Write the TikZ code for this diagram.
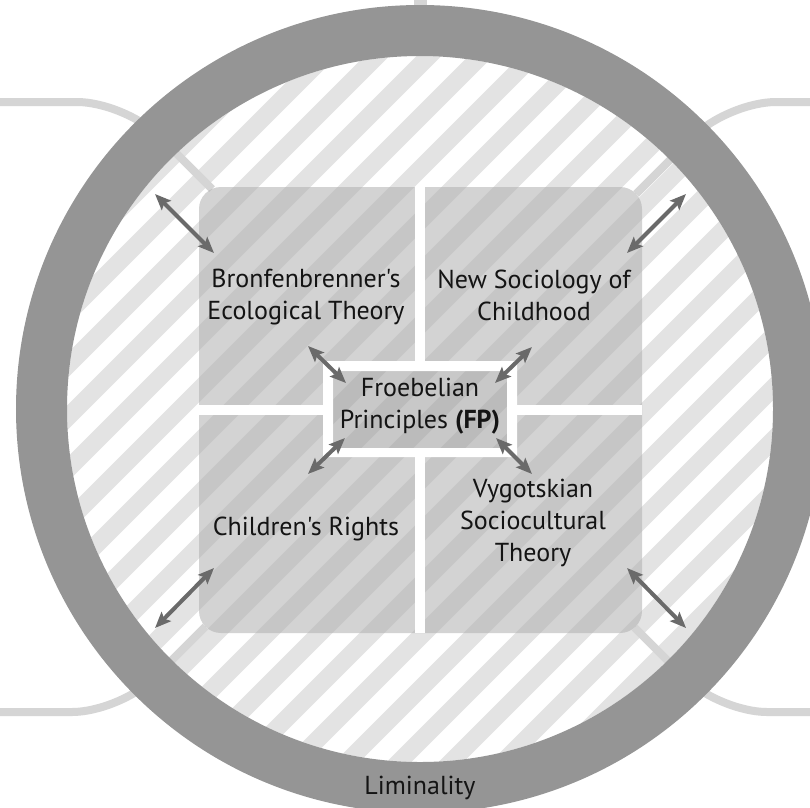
\documentclass[tikz,border=0pt]{standalone}
\usepackage{fontspec}
\setmainfont{PT Sans}[Ligatures=TeXOff]
\usetikzlibrary{arrows.meta}
\definecolor{ringgray}{HTML}{959595}
\definecolor{stripegray}{HTML}{E3E3E3}
\definecolor{linkgray}{HTML}{D5D5D5}
\definecolor{panelgray}{HTML}{AFAFAF}
\definecolor{arrowgray}{HTML}{6A6A6A}
\definecolor{textcol}{HTML}{141414}
\begin{document}
\begin{tikzpicture}[x=1pt,y=-1pt,
  link/.style={draw=linkgray, line width=8pt, rounded corners=48pt},
  stripe/.style={draw=stripegray, line width=17.5pt},
  quad/.style={fill=panelgray, fill opacity=0.55},
  gap/.style={fill=white},
  biarrow/.style={draw=arrowgray, line width=4pt,
    {Stealth[length=16pt,width=13pt,inset=3pt]}-{Stealth[length=16pt,width=13pt,inset=3pt]}},
  lbl/.style={font=\fontsize{26}{32}\selectfont, text=textcol, align=center, inner sep=0pt}
]
\useasboundingbox (0,0) rectangle (810,807);
\clip (0,0) rectangle (810,807);
\fill[white] (0,0) rectangle (810,807);

% hatched disc
\begin{scope}
  \clip (420,409) circle[radius=353pt];
  \foreach \k in {5,...,26} {
    \pgfmathsetmacro\cc{17+52*\k}
    \draw[stripe] (\cc+200,-200) -- (\cc-1000,1000);
  }
\end{scope}

% outer links
\coordinate (tlA) at (0,102);   \coordinate (tlV) at (125,102); \coordinate (tlB) at (212,189);
\coordinate (trA) at (810,102); \coordinate (trV) at (728,102); \coordinate (trB) at (636,194);
\coordinate (blA) at (0,712);   \coordinate (blV) at (120,712); \coordinate (blB) at (205.5,626.5);
\coordinate (brA) at (810,712); \coordinate (brV) at (719,712); \coordinate (brB) at (634.5,627.5);
\coordinate (topA) at (420,0);  \coordinate (topB) at (420,30);
\draw[link] (tlA) -- (tlV) -- (tlB);
\draw[link] (trA) -- (trV) -- (trB);
\draw[link] (blA) -- (blV) -- (blB);
\draw[link] (brA) -- (brV) -- (brB);
\draw[linkgray, line width=13pt] (topA) -- (topB);

% central panel
\fill[quad, rounded corners=22pt] (199,187) rectangle (642,633);
\fill[gap] (415,187) rectangle (425,361);
\fill[gap] (415,457) rectangle (425,633);
\fill[gap] (199,405) rectangle (323,415);
\fill[gap] (517,405) rectangle (642,415);
\fill[gap, even odd rule] (323,361) rectangle (517,457) (333,371) rectangle (507,448);
\fill[black, fill opacity=0.05] (333,371) rectangle (507,448);

% ring
\draw[ringgray, line width=51pt] (420,409) circle[radius=378.5pt];

% arrows
\coordinate (o1a) at (155,194); \coordinate (o1b) at (214,253);
\coordinate (o2a) at (686,194); \coordinate (o2b) at (627,253);
\coordinate (o3a) at (155,628); \coordinate (o3b) at (214,568);
\coordinate (o4a) at (686,628); \coordinate (o4b) at (627,568);
\coordinate (i1a) at (308,346); \coordinate (i1b) at (346,383);
\coordinate (i2a) at (532,347); \coordinate (i2b) at (495,383);
\coordinate (i3a) at (345,438); \coordinate (i3b) at (308,474);
\coordinate (i4a) at (496,438); \coordinate (i4b) at (532,474);
\foreach \n in {o1,o2,o3,o4,i1,i2,i3,i4} \draw[biarrow] (\n a) -- (\n b);

% labels
\node[lbl] (bron) at (306,297) {Bronfenbrenner's\\Ecological Theory};
\node[lbl] (nsc) at (534,295) {New Sociology of\\Childhood};
\node[lbl] (fp) at (420,406) {Froebelian\\Principles \textbf{(FP)}};
\node[lbl, anchor=base] (cr) at (306,535) {Children's Rights};
\node[lbl] (vyg) at (533,523) {Vygotskian\\Sociocultural\\Theory};
\node[lbl, anchor=base] (lim) at (420,794) {Liminality};
\end{tikzpicture}
\end{document}
